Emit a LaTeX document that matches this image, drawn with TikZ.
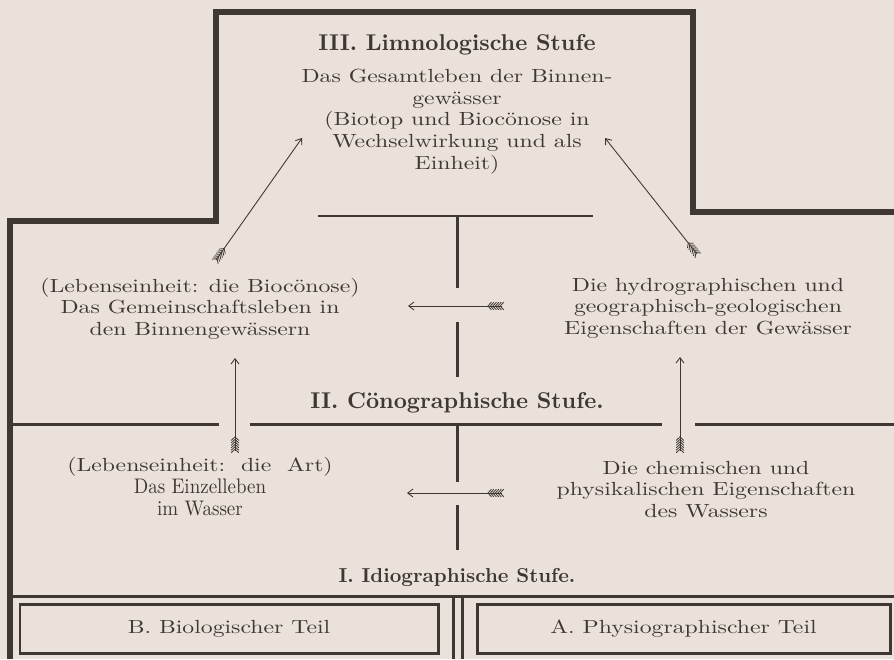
\documentclass[tikz,border=0pt]{standalone}
\usepackage{fontspec}
\usetikzlibrary{arrows.meta,decorations.markings}

\newfontfamily\breit{lmroman10-regular.otf}[FakeStretch=1.25]
\newfontfamily\schmal{lmroman10-regular.otf}[FakeStretch=0.9]
\newfontfamily\fett{lmroman10-bold.otf}

\definecolor{papier}{RGB}{234,226,218}
\definecolor{tinte}{RGB}{62,55,50}

\tikzset{
  rahmen/.style={tinte, line width=3pt},
  teiler/.style={tinte, line width=1.7pt},
  stufe/.style={tinte, font=\fett\fontsize{13}{15}\selectfont},
  inhalt/.style={tinte, align=center, font=\breit\fontsize{10.8}{12.3}\selectfont},
  teil/.style={teiler, draw, minimum height=0.98cm, font=\breit\fontsize{10.8}{12.3}\selectfont},
  pfeil/.style={tinte, line width=0.5pt, -{Straight Barb[length=3pt,width=4.5pt]},
    decoration={markings, mark=between positions 1pt and 9pt step 1.4pt with
      {\draw[-, line width=0.45pt] (-2pt,2.2pt) -- (0,0) -- (-2pt,-2.2pt);}},
    postaction={decorate}}
}

\begin{document}
\begin{tikzpicture}
    \fill[papier] (0,0) rectangle (17.88,13.18);
    \useasboundingbox (0,0) rectangle (17.88,13.18);

    % outer frame
    \draw[rahmen] (0.2,0) -- (0.2,8.76) -- (4.32,8.76) -- (4.32,12.94) -- (13.86,12.94) -- (13.86,8.94) -- (17.88,8.94);

    % dividers
    \draw[teiler] (6.36,8.86) -- (11.86,8.86);
    \draw[teiler] (9.14,8.86) -- (9.14,7.42);
    \draw[teiler] (9.14,6.74) -- (9.14,5.64);
    \draw[teiler] (0.2,4.70) -- (4.38,4.70);
    \draw[teiler] (5.0,4.70) -- (13.24,4.70);
    \draw[teiler] (13.9,4.70) -- (17.88,4.70);
    \draw[teiler] (9.14,4.70) -- (9.14,3.54);
    \draw[teiler] (9.14,3.08) -- (9.14,2.18);
    \draw[teiler] (0.2,1.26) -- (17.88,1.26);
    \draw[teiler] (9.06,1.26) -- (9.06,0);
    \draw[teiler] (9.24,1.26) -- (9.24,0);

    \node[stufe] (stufe3) at (9.14,12.28) {III. Limnologische Stufe};
    \node[inhalt] (gesamt) at (9.14,10.75) {Das Gesamtleben der Binnen-\\gewässer\\(Biotop und Biocönose in\\Wechselwirkung und als\\Einheit)};
    \node[inhalt] (gemeinschaft) at (4.0,7.01) {(Lebenseinheit: die Biocönose)\\Das Gemeinschaftsleben in\\den Binnengewässern};
    \node[inhalt] (hydro) at (14.16,7.02) {Die hydrographischen und\\geographisch-geologischen\\Eigenschaften der Gewässer};
    \node[stufe] (stufe2) at (9.14,5.12) {II. Cönographische Stufe.};
    \node[inhalt] (einzel) at (4.0,3.45) {(Lebenseinheit:\ \ die\ \ Art)\\{\schmal\fontsize{12}{12.3}\selectfont Das Einzelleben}\\{\schmal\fontsize{12}{12.3}\selectfont im Wasser}};
    \node[inhalt] (chemie) at (14.12,3.39) {Die chemischen und\\physikalischen Eigenschaften\\des Wassers};
    \node[stufe, font=\fett\fontsize{11.5}{13}\selectfont] (stufe1) at (9.14,1.64) {I. Idiographische Stufe.};
    \node[teil, minimum width=8.36cm] (biol) at (4.58,0.61) {B. Biologischer Teil};
    \node[teil, minimum width=8.26cm] (physio) at (13.67,0.61) {A. Physiographischer Teil};

    % arrows
    \coordinate (gem-fuss) at (4.32,7.98);
    \coordinate (gem-ziel) at (6.04,10.42);
    \coordinate (hyd-fuss) at (13.94,8.10);
    \coordinate (hyd-ziel) at (12.10,10.42);
    \coordinate (mitte-fuss) at (10.04,7.06);
    \coordinate (mitte-ziel) at (8.16,7.06);
    \coordinate (unten-fuss) at (10.04,3.32);
    \coordinate (unten-ziel) at (8.14,3.32);
    \coordinate (art-fuss) at (4.70,4.16);
    \coordinate (art-ziel) at (4.70,6.02);
    \coordinate (chem-fuss) at (13.60,4.16);
    \coordinate (chem-ziel) at (13.60,6.04);
    \draw[pfeil] (gem-fuss) -- (gem-ziel);
    \draw[pfeil] (hyd-fuss) -- (hyd-ziel);
    \draw[pfeil] (mitte-fuss) -- (mitte-ziel);
    \draw[pfeil] (unten-fuss) -- (unten-ziel);
    \draw[pfeil] (art-fuss) -- (art-ziel);
    \draw[pfeil] (chem-fuss) -- (chem-ziel);
\end{tikzpicture}
\end{document}
